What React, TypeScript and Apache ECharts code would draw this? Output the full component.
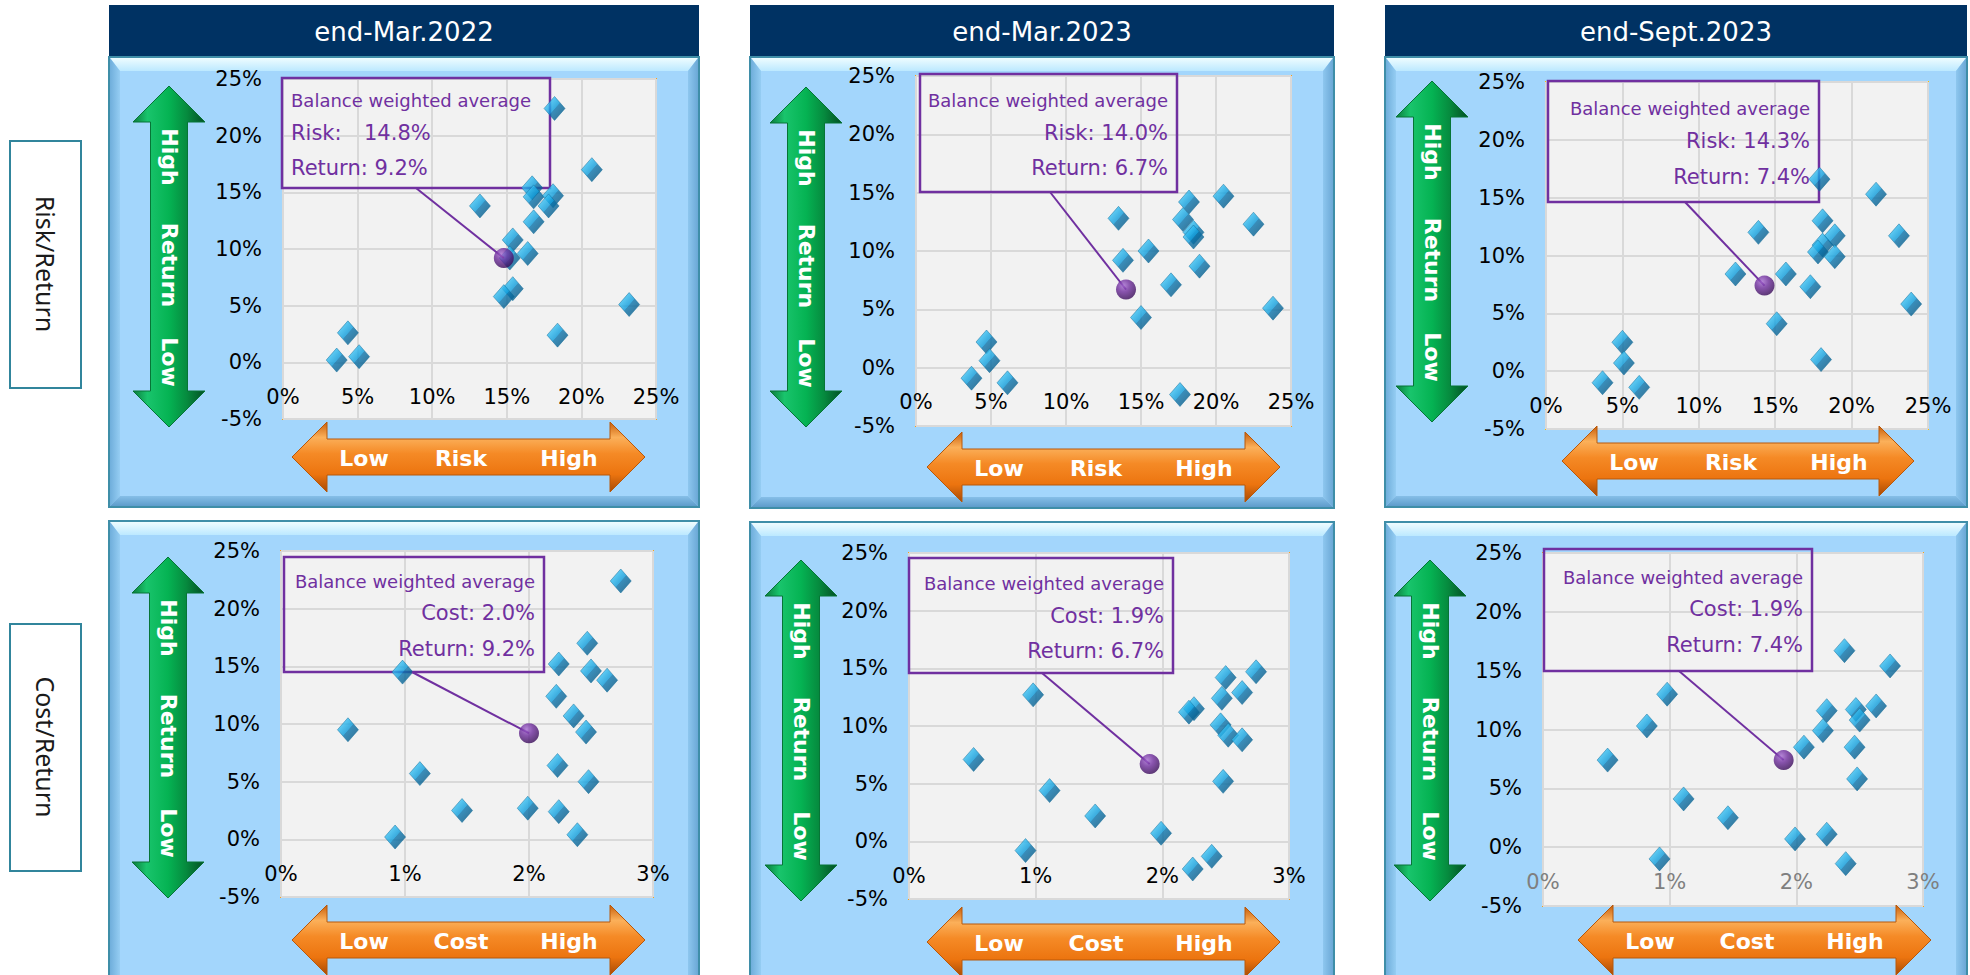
import React, { useEffect, useRef } from "react";
import * as echarts from "echarts";

const panelTitles = ["end-Mar.2022", "end-Mar.2023", "end-Sept.2023"];
const rowLabels = ["Risk/Return", "Cost/Return"];
const riskWords = ["Low", "Risk", "High"];
const costWords = ["Low", "Cost", "High"];
const returnWords = ["High", "Return", "Low"];
const calloutTitle = "Balance weighted average";

const returnAxis = { min: -5, max: 25, interval: 5 };
const riskAxis = { min: 0, max: 25, interval: 5 };
const costAxis = { min: 0, max: 3, interval: 1 };

// [risk %, return %]
const riskReturnMar2022 = [
  [18.2, 22.4], [20.7, 17.0], [16.7, 15.4], [16.8, 14.6], [18.1, 14.7], [17.8, 13.8],
  [13.2, 13.8], [16.8, 12.4], [15.4, 10.8], [16.4, 9.6], [15.2, 9.2], [15.4, 6.5],
  [14.8, 5.8], [23.2, 5.1], [18.4, 2.4], [4.35, 2.6], [3.6, 0.2], [5.1, 0.5],
];
const riskReturnMar2023 = [
  [20.5, 14.7], [18.2, 14.2], [13.5, 12.8], [17.8, 12.7], [22.5, 12.3], [18.5, 11.6],
  [18.5, 11.2], [15.5, 10.0], [13.8, 9.2], [18.9, 8.7], [17.0, 7.1], [15.0, 4.3],
  [23.8, 5.1], [4.7, 2.2], [4.9, 0.6], [3.7, -0.9], [6.1, -1.3], [17.6, -2.3],
];
const riskReturnSep2023 = [
  [17.9, 16.6], [21.6, 15.3], [18.1, 13.0], [13.9, 12.0], [23.1, 11.7], [18.9, 11.7],
  [18.1, 10.9], [17.8, 10.3], [18.9, 9.9], [12.4, 8.4], [15.7, 8.4], [17.3, 7.3],
  [15.1, 4.1], [23.9, 5.8], [5.0, 2.5], [5.1, 0.7], [18.0, 1.0], [3.7, -1.0], [6.1, -1.4],
];
// [cost %, return %]
const costReturnMar2022 = [
  [2.74, 22.4], [2.47, 17.0], [2.24, 15.2], [0.98, 14.5], [2.5, 14.6], [2.63, 13.8],
  [2.22, 12.4], [2.36, 10.7], [0.54, 9.5], [2.46, 9.3], [2.23, 6.4], [1.12, 5.7],
  [2.48, 5.0], [1.46, 2.5], [1.99, 2.7], [2.24, 2.4], [0.92, 0.2], [2.39, 0.4],
];
const costReturnMar2023 = [
  [2.74, 14.7], [2.5, 14.2], [2.63, 12.9], [0.98, 12.7], [2.47, 12.4], [2.25, 11.5],
  [2.21, 11.2], [2.46, 10.1], [2.52, 9.2], [2.63, 8.8], [0.51, 7.1], [2.48, 5.2],
  [1.11, 4.4], [1.47, 2.2], [1.99, 0.7], [0.92, -0.8], [2.39, -1.3], [2.24, -2.4],
];
const costReturnSep2023 = [
  [2.38, 16.7], [2.74, 15.4], [0.98, 13.0], [2.63, 12.0], [2.24, 11.6], [2.47, 11.7],
  [2.5, 10.8], [0.82, 10.3], [2.21, 9.9], [2.06, 8.5], [2.46, 8.5], [0.51, 7.4],
  [2.48, 5.8], [1.11, 4.1], [1.46, 2.5], [1.99, 0.7], [2.24, 1.1], [0.92, -1.0], [2.39, -1.4],
];

const avgRiskReturn = [[14.8, 9.2], [14.0, 6.7], [14.3, 7.4]];
const avgCostReturn = [[2.0, 9.2], [1.9, 6.7], [1.9, 7.4]];

const FONT = '"DejaVu Sans", Verdana, sans-serif';

// layout (pixels)
const layout = [
  { frame: [109, 57, 699, 507], header: [109, 5, 699, 56], grid: [283, 79, 373, 340], green: [169, 86, 427], orange: [292, 645, 457], box: [282, 78, 550, 188], tx: 291, align: "left", ys: [100, 133, 168], lead: [416, 188], border: "#F5A01A", xColor: "#000" },
  { frame: [750, 57, 1334, 508], header: [750, 5, 1334, 56], grid: [916, 76, 375, 350], green: [806, 87, 427], orange: [927, 1280, 467], box: [920, 74, 1177, 192], tx: 1168, align: "right", ys: [100, 133, 168], lead: [1050, 192], border: "#F5A01A", xColor: "#000" },
  { frame: [1385, 57, 1967, 507], header: [1385, 5, 1967, 56], grid: [1546, 82, 382, 347], green: [1432, 81, 422], orange: [1562, 1914, 461], box: [1548, 81, 1819, 202], tx: 1810, align: "right", ys: [108, 141, 177], lead: [1685, 202], border: "#FFBF00", xColor: "#000" },
  { frame: [109, 521, 699, 995], header: null, grid: [281, 551, 372, 346], green: [168, 557, 898], orange: [292, 645, 940], box: [284, 557, 544, 672], tx: 535, align: "right", ys: [581, 613, 649], lead: [412, 672], border: "#F5A01A", xColor: "#000" },
  { frame: [750, 522, 1334, 995], header: null, grid: [909, 553, 380, 346], green: [801, 560, 901], orange: [927, 1280, 942], box: [909, 558, 1173, 673], tx: 1164, align: "right", ys: [583, 616, 651], lead: [1042, 673], border: "#F5A01A", xColor: "#000" },
  { frame: [1385, 522, 1967, 995], header: null, grid: [1543, 553, 380, 353], green: [1430, 560, 901], orange: [1578, 1931, 940], box: [1544, 549, 1812, 671], tx: 1803, align: "right", ys: [577, 609, 645], lead: [1679, 671], border: "#F5A01A", xColor: "#7F7F7F" },
];

const lin = (x2: number, y2: number, stops: [number, string][]) =>
  new echarts.graphic.LinearGradient(0, 0, x2, y2, stops.map(([offset, color]) => ({ offset, color })));

function frameEls(f: number[]) {
  const [x0, y0, x1, y1] = f;
  const bw = 11;
  return [
    { type: "rect", z: -100, silent: true, shape: { x: x0, y: y0, width: x1 - x0, height: y1 - y0 }, style: { fill: "#A3D6FC", stroke: "#3F8EA8", lineWidth: 2 } },
    { type: "polygon", z: -99, silent: true, shape: { points: [[x0 + 1, y0 + 1], [x1 - 1, y0 + 1], [x1 - bw, y0 + bw + 3], [x0 + bw, y0 + bw + 3]] }, style: { fill: lin(0, 1, [[0, "#EEFCFF"], [1, "#BCE9FF"]]) } },
    { type: "polygon", z: -99, silent: true, shape: { points: [[x0 + 1, y0 + 1], [x0 + bw, y0 + bw + 3], [x0 + bw, y1 - bw], [x0 + 1, y1 - 1]] }, style: { fill: lin(1, 0, [[0, "#6FAEDB"], [1, "#95CDF3"]]) } },
    { type: "polygon", z: -99, silent: true, shape: { points: [[x1 - 1, y0 + 1], [x1 - bw, y0 + bw + 3], [x1 - bw, y1 - bw], [x1 - 1, y1 - 1]] }, style: { fill: lin(1, 0, [[0, "#8EC7EF"], [1, "#6BA8D6"]]) } },
    { type: "polygon", z: -99, silent: true, shape: { points: [[x0 + 1, y1 - 1], [x0 + bw, y1 - bw], [x1 - bw, y1 - bw], [x1 - 1, y1 - 1]] }, style: { fill: lin(0, 1, [[0, "#86BFE8"], [1, "#5E9CCB"]]) } },
  ];
}

function greenArrow(cx: number, yt: number, yb: number, words: string[]) {
  const hw = 36, sw = 18.5, hh = 36;
  const pts = [
    [cx, yt], [cx + hw, yt + hh], [cx + sw, yt + hh], [cx + sw, yb - hh], [cx + hw, yb - hh],
    [cx, yb], [cx - hw, yb - hh], [cx - sw, yb - hh], [cx - sw, yt + hh], [cx - hw, yt + hh],
  ];
  const els: any[] = [
    { type: "polygon", z: 1, silent: true, shape: { points: pts }, style: { fill: lin(1, 0, [[0, "#0C7A3C"], [0.2, "#19C46C"], [0.5, "#05B353"], [0.75, "#068A3E"], [1, "#034F25"]]), stroke: "#067536", lineWidth: 1 } },
  ];
  const offs = [71, 179, 276];
  words.forEach((w, i) => {
    els.push({ type: "text", z: 2, silent: true, x: cx, y: yt + offs[i], rotation: -Math.PI / 2, style: { text: w, fill: "#fff", fontSize: 22, fontWeight: "bold", fontFamily: FONT, align: "center", verticalAlign: "middle", textAlign: "center", textVerticalAlign: "middle" } });
  });
  return els;
}

function orangeArrow(x0: number, x1: number, cy: number, words: string[]) {
  const hh = 35, sh = 18, hl = 35;
  const pts = [
    [x0, cy], [x0 + hl, cy - hh], [x0 + hl, cy - sh], [x1 - hl, cy - sh], [x1 - hl, cy - hh],
    [x1, cy], [x1 - hl, cy + hh], [x1 - hl, cy + sh], [x0 + hl, cy + sh], [x0 + hl, cy + hh],
  ];
  const els: any[] = [
    { type: "polygon", z: 1, silent: true, shape: { points: pts }, style: { fill: lin(0, 1, [[0, "#C85E0A"], [0.22, "#FBB05A"], [0.45, "#F58A26"], [0.75, "#EC740F"], [1, "#A64A06"]]), stroke: "#B8580A", lineWidth: 1 } },
  ];
  const offs = [72, 169, 277];
  words.forEach((w, i) => {
    els.push({ type: "text", z: 2, silent: true, x: x0 + offs[i], y: cy + 1, style: { text: w, fill: "#fff", fontSize: 22, fontWeight: "bold", fontFamily: FONT, align: "center", verticalAlign: "middle", textAlign: "center", textVerticalAlign: "middle" } });
  });
  return els;
}

function buildOption() {
  const datasets = [riskReturnMar2022, riskReturnMar2023, riskReturnSep2023, costReturnMar2022, costReturnMar2023, costReturnSep2023];
  const avgs = [...avgRiskReturn, ...avgCostReturn];
  const grids: any[] = [];
  const xAxes: any[] = [];
  const yAxes: any[] = [];
  const series: any[] = [];
  const graphic: any[] = [];

  rowLabels.forEach((t, i) => {
    const y0 = i === 0 ? 141 : 624;
    graphic.push({ type: "rect", z: 0, silent: true, shape: { x: 10, y: y0, width: 71, height: 247 }, style: { fill: "#fff", stroke: "#31859C", lineWidth: 2 } });
    graphic.push({ type: "text", z: 1, silent: true, x: 45.5, y: y0 + 123, rotation: -Math.PI / 2, style: { text: t, fill: "#1a1a1a", fontSize: 25, fontFamily: '"Noto Sans", sans-serif', align: "center", verticalAlign: "middle", textAlign: "center", textVerticalAlign: "middle" } });
  });

  layout.forEach((L, i) => {
    const isRisk = i < 3;
    const [gl, gt, gw, gh] = L.grid;
    grids.push({ left: gl, top: gt, width: gw, height: gh, show: true, backgroundColor: "#F2F2F2", borderColor: L.border, borderWidth: 2, containLabel: false });
    const xr = isRisk ? riskAxis : costAxis;
    // labels sit just under the 0% line, inside the plot area
    const zeroFromBottom = (gh * (0 - returnAxis.min)) / (returnAxis.max - returnAxis.min);
    xAxes.push({
      type: "value", gridIndex: i, min: xr.min, max: xr.max, interval: xr.interval,
      axisLine: { show: false }, axisTick: { show: false },
      splitLine: { show: true, lineStyle: { color: "#D9D9D9", width: 2 } },
      axisLabel: { formatter: "{value}%", color: L.xColor, fontSize: 21, fontFamily: FONT, margin: 24 - zeroFromBottom },
      z: 3,
    });
    yAxes.push({
      type: "value", gridIndex: i, min: returnAxis.min, max: returnAxis.max, interval: returnAxis.interval,
      axisLine: { show: false }, axisTick: { show: false },
      splitLine: { show: true, lineStyle: { color: "#D9D9D9", width: 2 } },
      axisLabel: { formatter: "{value}%", color: "#000", fontSize: 21, fontFamily: FONT, margin: 21 },
    });
    series.push({
      type: "scatter", xAxisIndex: i, yAxisIndex: i, data: datasets[i], symbol: "diamond", symbolSize: [21, 24], z: 4,
      itemStyle: { color: lin(1, 1, [[0, "#9BE8FF"], [0.3, "#2DB8EE"], [0.5, "#0E9BDA"], [0.52, "#0A74AC"], [1, "#064D75"]]), borderColor: "#0B6A98", borderWidth: 0.6 },
      emphasis: { disabled: true }, silent: true,
    });
    const avg = avgs[i];
    series.push({
      type: "scatter", xAxisIndex: i, yAxisIndex: i, data: [avg], symbol: "circle", symbolSize: 20, z: 5,
      itemStyle: { color: new echarts.graphic.RadialGradient(0.38, 0.3, 0.7, [{ offset: 0, color: "#A56BD0" }, { offset: 0.45, color: "#6E2C9C" }, { offset: 1, color: "#3A0C5A" }]) },
      emphasis: { disabled: true }, silent: true,
      markLine: {
        silent: true, symbol: ["none", "none"], label: { show: false }, emphasis: { disabled: true },
        lineStyle: { color: "#7030A0", width: 2, type: "solid" },
        data: [[{ x: L.lead[0], y: L.lead[1] }, { coord: avg }]],
      },
    });

    graphic.push(...frameEls(L.frame));
    if (L.header) {
      const [hx0, hy0, hx1, hy1] = L.header;
      graphic.push({ type: "rect", z: 0, silent: true, shape: { x: hx0, y: hy0, width: hx1 - hx0, height: hy1 - hy0 }, style: { fill: "#003263" } });
      graphic.push({ type: "text", z: 1, silent: true, x: (hx0 + hx1) / 2, y: (hy0 + hy1) / 2 + 1, style: { text: panelTitles[i], fill: "#fff", fontSize: 26, fontFamily: FONT, align: "center", verticalAlign: "middle", textAlign: "center", textVerticalAlign: "middle" } });
    }
    graphic.push(...greenArrow(L.green[0], L.green[1], L.green[2], returnWords));
    graphic.push(...orangeArrow(L.orange[0], L.orange[1], L.orange[2], isRisk ? riskWords : costWords));

    const [bx0, by0, bx1, by1] = L.box;
    graphic.push({ type: "rect", z: 4, silent: true, shape: { x: bx0, y: by0, width: bx1 - bx0, height: by1 - by0 }, style: { fill: "rgba(0,0,0,0)", stroke: "#7030A0", lineWidth: 2.5 } });
    const metric = isRisk ? "Risk" : "Cost";
    const tstyle = (text: string, size: number) => ({ text, fill: "#7030A0", fontSize: size, fontFamily: FONT, align: L.align, verticalAlign: "middle", textAlign: L.align, textVerticalAlign: "middle" });
    graphic.push({ type: "text", z: 6, silent: true, x: L.tx, y: L.ys[0], style: tstyle(calloutTitle, 18) });
    if (i === 0) {
      graphic.push({ type: "text", z: 6, silent: true, x: L.tx, y: L.ys[1], style: tstyle(`${metric}:`, 21) });
      graphic.push({ type: "text", z: 6, silent: true, x: 364, y: L.ys[1], style: tstyle(`${avg[0].toFixed(1)}%`, 21) });
    } else {
      graphic.push({ type: "text", z: 6, silent: true, x: L.tx, y: L.ys[1], style: tstyle(`${metric}: ${avg[0].toFixed(1)}%`, 21) });
    }
    graphic.push({ type: "text", z: 6, silent: true, x: L.tx, y: L.ys[2], style: tstyle(`Return: ${avg[1].toFixed(1)}%`, 21) });
  });

  return {
    animation: false,
    backgroundColor: "#ffffff",
    grid: grids,
    xAxis: xAxes,
    yAxis: yAxes,
    series,
    graphic: { elements: graphic },
  };
}

export default function App() {
  const ref = useRef<HTMLDivElement>(null);
  useEffect(() => {
    if (!ref.current) return;
    const chart = echarts.init(ref.current, null, { renderer: "svg" });
    chart.setOption(buildOption() as any);
    return () => chart.dispose();
  }, []);
  return <div ref={ref} style={{ position: "absolute", left: 0, top: 0, width: 1970, height: 975 }} />;
}
